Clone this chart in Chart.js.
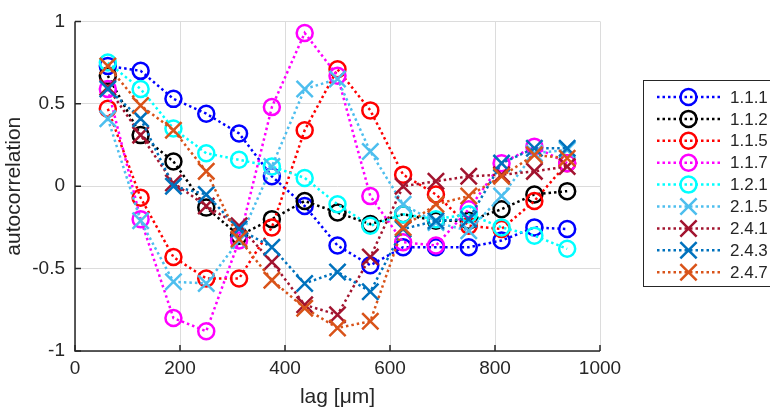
<!DOCTYPE html>
<html lang="en">
<head>
    <meta charset="UTF-8">
    <title>Autocorrelation vs lag</title>
    <script src="https://cdn.jsdelivr.net/npm/chart.js"></script>
    <style>
        body { margin: 0; background: #fff; }
        canvas { display: block; }
    </style>
</head>
<body>
    <canvas id="acChart" width="770" height="411"></canvas>
    <script>
        // lag positions in um
        const lags = [62.5, 125, 187.5, 250, 312.5, 375, 437.5, 500, 562.5, 625, 687.5, 750, 812.5, 875, 937.5];

        const labels = ['1.1.1', '1.1.2', '1.1.5', '1.1.7', '1.2.1', '2.1.5', '2.4.1', '2.4.3', '2.4.7'];

        const s111 = [0.73, 0.70, 0.53, 0.44, 0.32, 0.06, -0.12, -0.36, -0.48, -0.37, -0.37, -0.37, -0.33, -0.25, -0.26];
        const s112 = [0.67, 0.31, 0.15, -0.13, -0.30, -0.20, -0.09, -0.16, -0.23, -0.17, -0.21, -0.21, -0.14, -0.05, -0.03];
        const s115 = [0.47, -0.07, -0.43, -0.56, -0.56, -0.25, 0.34, 0.71, 0.46, 0.07, -0.05, -0.24, -0.26, -0.09, 0.14];
        const s117 = [0.59, -0.20, -0.80, -0.88, -0.33, 0.48, 0.93, 0.67, -0.06, -0.34, -0.36, -0.14, 0.14, 0.24, 0.14];
        const s121 = [0.75, 0.59, 0.35, 0.20, 0.16, 0.12, 0.05, -0.11, -0.24, -0.17, -0.20, -0.17, -0.25, -0.30, -0.38];
        const s215 = [0.41, -0.21, -0.58, -0.59, -0.33, 0.12, 0.59, 0.65, 0.21, -0.11, -0.22, -0.27, -0.06, 0.20, 0.22];
        const s241 = [0.60, 0.31, 0.02, -0.12, -0.24, -0.46, -0.72, -0.78, -0.43, 0.00, 0.03, 0.06, 0.07, 0.09, 0.12];
        const s243 = [0.59, 0.41, 0.00, -0.05, -0.26, -0.37, -0.59, -0.52, -0.64, -0.26, -0.21, -0.20, 0.14, 0.23, 0.23];
        const s247 = [0.73, 0.49, 0.34, 0.09, -0.32, -0.57, -0.74, -0.86, -0.82, -0.25, -0.11, -0.06, 0.06, 0.19, 0.17];

        const xTicks = [0, 200, 400, 600, 800, 1000];
        const xTickLabels = ['0', '200', '400', '600', '800', '1000'];
        const yTicks = [-1, -0.5, 0, 0.5, 1];
        const yTickLabels = ['-1', '-0.5', '0', '0.5', '1'];

        const series = [s111, s112, s115, s117, s121, s215, s241, s243, s247];
        const colors = ['#0000FF', '#000000', '#FF0000', '#FF00FF', '#00FFFF', '#4DBEEE', '#A2142F', '#0072BD', '#D95319'];
        const markers = ['circle', 'circle', 'circle', 'circle', 'circle', 'crossRot', 'crossRot', 'crossRot', 'crossRot'];

        const FONT = '"Liberation Sans", Arial, Helvetica, sans-serif';
        const TEXT = '#262626';

        const datasets = series.map((vals, i) => ({
            label: labels[i],
            data: vals.map((v, j) => ({ x: lags[j], y: v })),
            borderColor: colors[i],
            borderWidth: 2.5,
            borderDash: [2.5, 3],
            pointStyle: markers[i],
            pointRadius: markers[i] === 'circle' ? 8 : 11.5,
            pointBorderWidth: 2.5,
            pointBorderColor: colors[i],
            pointBackgroundColor: 'rgba(0,0,0,0)',
            pointHoverRadius: markers[i] === 'circle' ? 8 : 11.5,
            fill: false,
            tension: 0,
            order: series.length - 1 - i   // later series drawn on top
        }));

        // inward ticks on left and bottom axes
        const innerTicks = {
            id: 'innerTicks',
            afterDatasetsDraw(chart) {
                const { ctx, chartArea, scales } = chart;
                ctx.save();
                ctx.strokeStyle = TEXT;
                ctx.lineWidth = 1.5;
                ctx.beginPath();
                xTicks.forEach(t => {
                    const px = scales.x.getPixelForValue(t);
                    ctx.moveTo(px, chartArea.bottom);
                    ctx.lineTo(px, chartArea.bottom - 6);
                });
                yTicks.forEach(t => {
                    const py = scales.y.getPixelForValue(t);
                    ctx.moveTo(chartArea.left, py);
                    ctx.lineTo(chartArea.left + 6, py);
                });
                ctx.stroke();
                ctx.beginPath();
                ctx.moveTo(chartArea.left, chartArea.top);
                ctx.lineTo(chartArea.left, chartArea.bottom);
                ctx.lineTo(chartArea.right, chartArea.bottom);
                ctx.stroke();
                ctx.restore();
            }
        };

        // boxed legend on the right, like the original figure
        const boxLegend = {
            id: 'boxLegend',
            afterDraw(chart) {
                const { ctx } = chart;
                const left = 643, top = 80, bottom = 286, rowH = 21.9, firstY = 97;
                ctx.save();
                ctx.fillStyle = '#fff';
                ctx.fillRect(left, top, 200, bottom - top);
                ctx.strokeStyle = TEXT;
                ctx.lineWidth = 1;
                ctx.strokeRect(left + 0.5, top + 0.5, 200, bottom - top);
                chart.data.datasets.forEach((ds, i) => {
                    const y = firstY + i * rowH;
                    ctx.strokeStyle = ds.borderColor;
                    ctx.lineWidth = 2.5;
                    ctx.setLineDash([2.5, 3]);
                    ctx.beginPath();
                    ctx.moveTo(657, y);
                    ctx.lineTo(720, y);
                    ctx.stroke();
                    ctx.setLineDash([]);
                    ctx.fillStyle = 'rgba(0,0,0,0)';
                    Chart.helpers.drawPoint(ctx, {
                        pointStyle: ds.pointStyle,
                        radius: ds.pointRadius,
                        borderWidth: 2.5,
                        rotation: 0
                    }, 688.5, y);
                    ctx.fillStyle = TEXT;
                    ctx.font = '17px ' + FONT;
                    ctx.textAlign = 'left';
                    ctx.textBaseline = 'middle';
                    ctx.fillText(ds.label, 730, y + 1);
                });
                ctx.restore();
            }
        };

        new Chart(document.getElementById('acChart'), {
            type: 'line',
            data: { datasets: datasets },
            options: {
                responsive: false,
                animation: false,
                events: [],
                layout: { padding: { top: 13, right: 170, left: 0, bottom: 0 } },
                plugins: { legend: { display: false }, tooltip: { enabled: false } },
                scales: {
                    x: {
                        type: 'linear',
                        min: 0,
                        max: 1000,
                        afterBuildTicks: s => { s.ticks = xTicks.map(v => ({ value: v })); },
                        afterFit: s => { s.height = 60; },
                        grid: { color: '#DCDCDC', lineWidth: 1, drawTicks: false },
                        border: { display: false },
                        ticks: {
                            color: TEXT, font: { family: FONT, size: 19 }, padding: 6, maxRotation: 0,
                            callback: v => xTickLabels[xTicks.indexOf(v)]
                        },
                        title: { display: true, text: 'lag [μm]', color: TEXT, font: { family: FONT, size: 21 }, padding: { top: 0, bottom: 1 } }
                    },
                    y: {
                        type: 'linear',
                        min: -1,
                        max: 1,
                        afterBuildTicks: s => { s.ticks = yTicks.map(v => ({ value: v })); },
                        afterFit: s => { s.width = 75; },
                        grid: { color: '#DCDCDC', lineWidth: 1, drawTicks: false },
                        border: { display: false },
                        ticks: {
                            color: TEXT, font: { family: FONT, size: 19 }, padding: 10,
                            callback: v => yTickLabels[yTicks.indexOf(v)]
                        },
                        title: { display: true, text: 'autocorrelation', color: TEXT, font: { family: FONT, size: 21 }, padding: { top: 2, bottom: 0 } }
                    }
                }
            },
            plugins: [innerTicks, boxLegend]
        });
    </script>
</body>
</html>
